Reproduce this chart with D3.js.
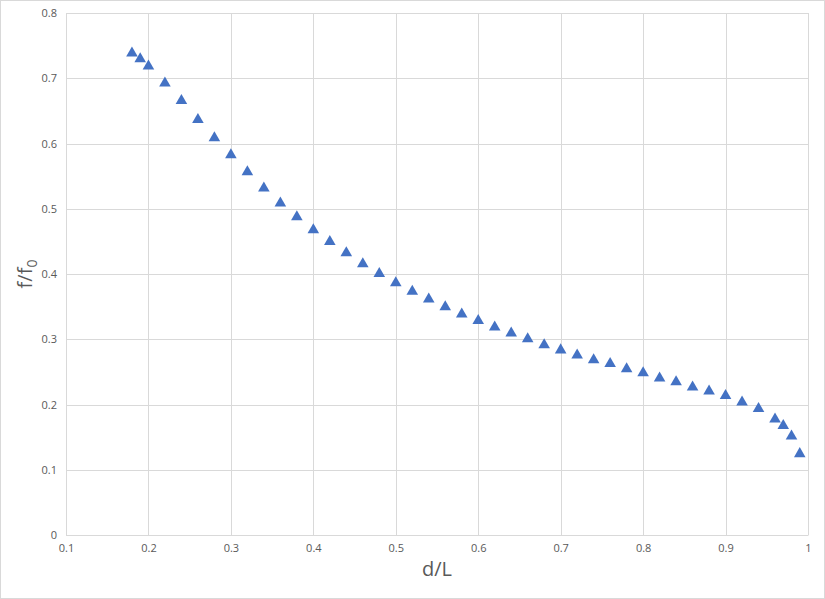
<!DOCTYPE html>
<meta charset="utf-8">
<script src="https://d3js.org/d3.v7.min.js"></script>
<style>
  body { margin: 0; background: #fff; }
  text { font-family: "Open Sans", "DejaVu Sans", sans-serif; fill: #595959; }
</style>
<body>
<div id="chart"></div>
<script>

// data
var dL = [0.18, 0.19, 0.2, 0.22, 0.24, 0.26, 0.28, 0.3, 0.32, 0.34, 0.36, 0.38, 0.4,
          0.42, 0.44, 0.46, 0.48, 0.5, 0.52, 0.54, 0.56, 0.58, 0.6, 0.62, 0.64, 0.66,
          0.68, 0.7, 0.72, 0.74, 0.76, 0.78, 0.8, 0.82, 0.84, 0.86, 0.88, 0.9, 0.92,
          0.94, 0.96, 0.97, 0.98, 0.99];
var ff0 = [0.740, 0.731, 0.720, 0.694, 0.667, 0.638, 0.610, 0.584, 0.558, 0.533, 0.510,
           0.489, 0.469, 0.451, 0.434, 0.417, 0.402, 0.388, 0.375, 0.363, 0.351, 0.340,
           0.330, 0.320, 0.311, 0.302, 0.293, 0.285, 0.277, 0.270, 0.264, 0.256, 0.250,
           0.242, 0.236, 0.228, 0.222, 0.215, 0.205, 0.195, 0.179, 0.169, 0.153, 0.126];
var xTicks = [0.1, 0.2, 0.3, 0.4, 0.5, 0.6, 0.7, 0.8, 0.9, 1];
var yTicks = [0, 0.1, 0.2, 0.3, 0.4, 0.5, 0.6, 0.7, 0.8];

var W = 825, H = 599;
var margin = {top: 13, right: 17, bottom: 64, left: 66},
    width = W - margin.left - margin.right,
    height = H - margin.top - margin.bottom;

var svg = d3.select("#chart").append("svg")
    .attr("width", W)
    .attr("height", H);

// outer chart border
svg.append("rect")
    .attr("x", 0.5).attr("y", 0.5)
    .attr("width", W - 1).attr("height", H - 1)
    .attr("fill", "#fff")
    .attr("stroke", "#d9d9d9");

var g = svg.append("g")
    .attr("transform", "translate(" + margin.left + "," + margin.top + ")");

var x = d3.scaleLinear().domain([0.1, 1]).range([0, width]);
var y = d3.scaleLinear().domain([0, 0.8]).range([height, 0]);

// gridlines
g.append("g")
  .selectAll("line")
  .data(xTicks)
  .enter().append("line")
    .attr("x1", function(d) { return Math.round(x(d)) + 0.5; })
    .attr("x2", function(d) { return Math.round(x(d)) + 0.5; })
    .attr("y1", 0).attr("y2", height)
    .attr("stroke", "#d9d9d9");

g.append("g")
  .selectAll("line")
  .data(yTicks)
  .enter().append("line")
    .attr("y1", function(d) { return Math.round(y(d)) + 0.5; })
    .attr("y2", function(d) { return Math.round(y(d)) + 0.5; })
    .attr("x1", 0).attr("x2", width)
    .attr("stroke", "#d9d9d9");

// axes
var xAxis = g.append("g")
    .attr("transform", "translate(0," + height + ")")
    .call(d3.axisBottom(x).tickValues(xTicks).tickSize(0).tickPadding(9)
      .tickFormat(function(d) { return d === 1 ? "1" : d3.format(".1f")(d); }));

var yAxis = g.append("g")
    .call(d3.axisLeft(y).tickValues(yTicks).tickSize(0).tickPadding(9)
      .tickFormat(function(d) { return d === 0 ? "0" : d3.format(".1f")(d); }));

[xAxis, yAxis].forEach(function(a) {
  a.select(".domain").attr("stroke", "#d9d9d9");
  a.selectAll("text")
    .style("font-size", "11px")
    .style("fill", "#595959")
    .attr("font-family", null);
});

// markers
g.append("g")
  .selectAll("path")
  .data(dL.map(function(d, i) { return {x: d, y: ff0[i]}; }))
  .enter().append("path")
    .attr("d", d3.symbol(d3.symbolTriangle, 58))
    .attr("transform", function(d) { return "translate(" + x(d.x) + "," + (y(d.y) + 1) + ")"; })
    .attr("fill", "#4472c4");

// axis titles
svg.append("text")
    .attr("x", margin.left + width / 2)
    .attr("y", 576)
    .attr("text-anchor", "middle")
    .style("font-size", "20px")
    .text("d/L");

var yt = svg.append("text")
    .attr("transform", "translate(32," + (margin.top + height / 2) + ") rotate(-90)")
    .attr("text-anchor", "middle")
    .style("font-size", "20px");
yt.append("tspan").text("f/f");
yt.append("tspan").attr("dy", 5).style("font-size", "14px").text("0");

</script>
</body>
